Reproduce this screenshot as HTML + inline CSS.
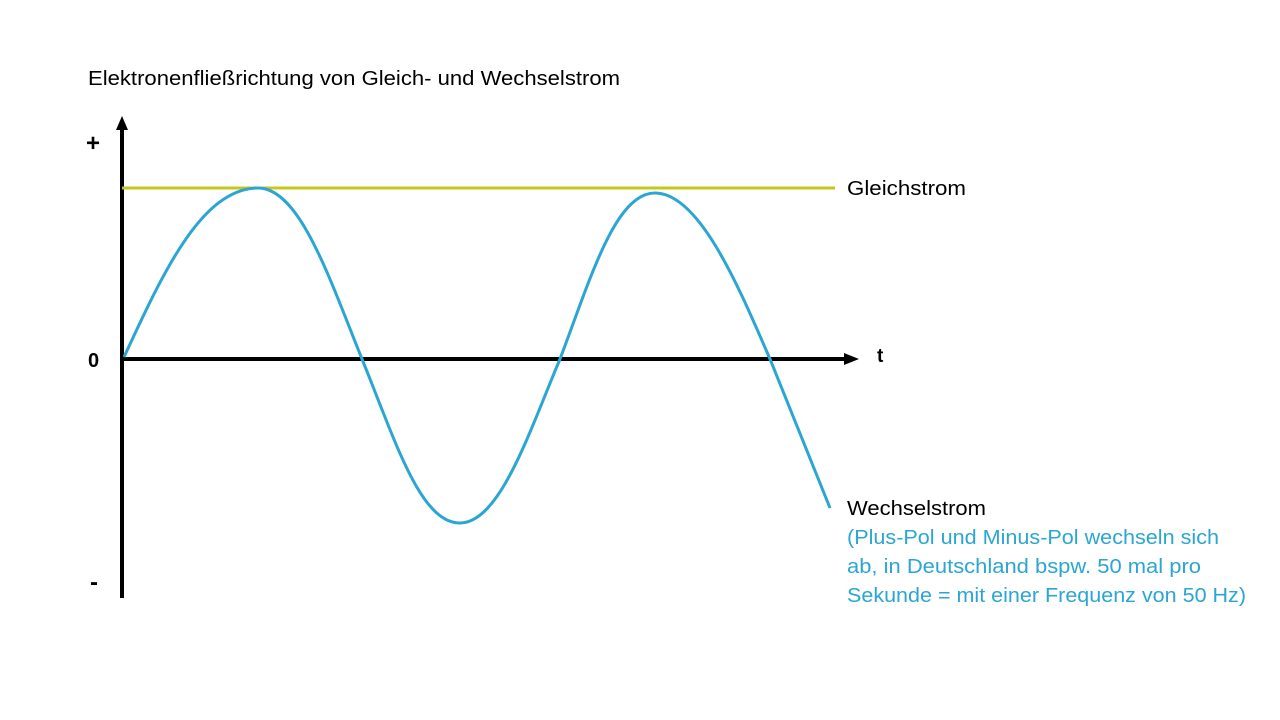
<!DOCTYPE html>
<html><head><meta charset="utf-8"><style>
html,body{margin:0;padding:0;background:#fff;}
svg{display:block;}
text{font-family:"Liberation Sans",sans-serif;}
</style></head><body>
<svg width="1280" height="720" viewBox="0 0 1280 720" xmlns="http://www.w3.org/2000/svg">
<text x="88" y="85" font-size="20" fill="#000" textLength="532" lengthAdjust="spacingAndGlyphs">Elektronenfließrichtung von Gleich- und Wechselstrom</text>
<line x1="122" y1="128" x2="122" y2="598" stroke="#000" stroke-width="4"/>
<polygon points="122,116 116,130 128,130" fill="#000"/>
<line x1="120" y1="359" x2="846" y2="359" stroke="#000" stroke-width="4"/>
<polygon points="859,359 844,353 844,365" fill="#000"/>
<line x1="122" y1="188" x2="835" y2="188" stroke="#c4c81c" stroke-width="3"/>
<path d="M124,357 C160,280 200,188 258,188 C300,188 330,280 362,359 C395,440 420,523 460,523 C500,523 530,430 560,359 C590,280 615,193 655,193 C700,193 740,290 770,359 C795,420 815,470 830,508" fill="none" stroke="#2ba6d2" stroke-width="3"/>
<text x="86" y="151" font-size="24" font-weight="bold" fill="#000">+</text>
<text x="88" y="367" font-size="20" font-weight="bold" fill="#000">0</text>
<text x="90" y="590" font-size="24" font-weight="bold" fill="#000">-</text>
<text x="877" y="362" font-size="19" font-weight="bold" fill="#000">t</text>
<text x="847" y="195" font-size="20" fill="#000" textLength="119" lengthAdjust="spacingAndGlyphs">Gleichstrom</text>
<text x="847" y="515" font-size="20" fill="#000" textLength="139" lengthAdjust="spacingAndGlyphs">Wechselstrom</text>
<text font-size="20" fill="#2ba6d2">
<tspan x="847" y="544" textLength="372" lengthAdjust="spacingAndGlyphs">(Plus-Pol und Minus-Pol wechseln sich</tspan>
<tspan x="847" y="573" textLength="354" lengthAdjust="spacingAndGlyphs">ab, in Deutschland bspw. 50 mal pro</tspan>
<tspan x="847" y="602" textLength="399" lengthAdjust="spacingAndGlyphs">Sekunde = mit einer Frequenz von 50 Hz)</tspan>
</text>
</svg>
</body></html>
